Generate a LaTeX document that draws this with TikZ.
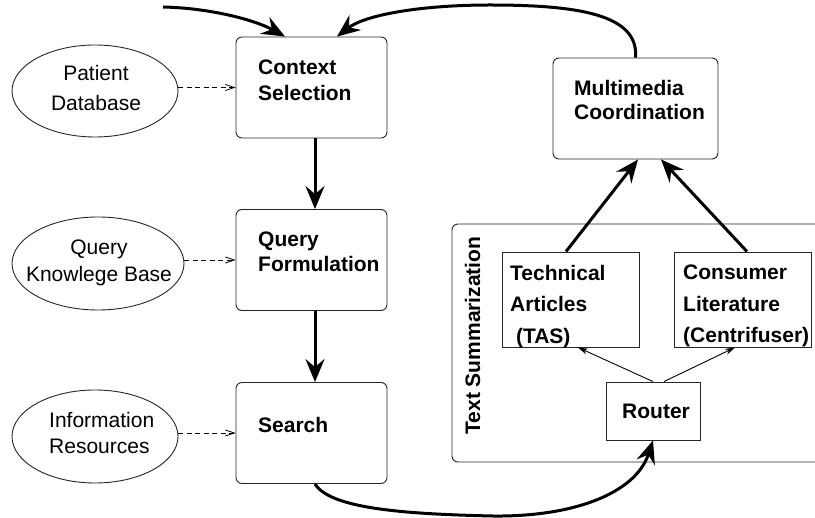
\documentclass[tikz,border=0pt]{standalone}
\usepackage{fontspec}
\setmainfont{Liberation Sans}
\usetikzlibrary{arrows.meta,calc,shapes.geometric}

\tikzset{
  boxline/.style={draw=black!85, line width=0.9pt},
  stage/.style={boxline, rounded corners=6pt, inner sep=0pt,
    minimum width=151pt, minimum height=101pt},
  plainbox/.style={boxline, inner sep=0pt},
  source/.style={boxline, ellipse, inner sep=0pt},
  bold/.style={font=\fontsize{21}{26}\selectfont\bfseries, align=left, inner sep=0pt},
  plain/.style={font=\fontsize{21}{26}\selectfont, inner sep=0pt},
  flow/.style={line width=3pt,
    -{Stealth[length=23pt,width=19pt,inset=8pt]}},
  feed/.style={line width=0.8pt, dash pattern=on 5pt off 3.5pt,
    -{Straight Barb[length=9pt,width=6pt]}},
  route/.style={line width=0.9pt, -{Stealth[length=10pt,width=6pt]}},
}

\begin{document}
\begin{tikzpicture}[x=1pt,y=-1pt]
\useasboundingbox (0,0) rectangle (815,518);

% pipeline stages
\node[stage] (ctx)  at (311.5,87.5) {};
\node[stage] (qf)   at (311.5,260) {};
\node[stage] (srch) at (311.5,433) {};
\node[stage, minimum width=165pt] (mm) at (635.5,108.5) {};

\node[bold, anchor=north west] (ctxt) at (258,60) {Context\\Selection};
\node[bold, anchor=north west, font=\fontsize{21}{25}\selectfont\bfseries] (qft) at (258,232) {Query\\Formulation};
\node[bold, anchor=north west] (srcht) at (258,417) {Search};
\node[bold, anchor=north west, font=\fontsize{21}{24}\selectfont\bfseries] (mmt) at (574,80) {Multimedia\\Coordination};

% knowledge sources
\node[source, minimum width=166pt, minimum height=92pt] (pd)  at (95,91) {};
\node[source, minimum width=172pt, minimum height=93pt] (qkb) at (98,263.5) {};
\node[source, minimum width=166pt, minimum height=93pt] (ir)  at (95,436.5) {};

\node[plain, anchor=north, align=center, font=\fontsize{21}{30}\selectfont] (pdt) at (96,65) {Patient\\Database};
\node[plain, anchor=north, align=center, font=\fontsize{21}{27}\selectfont] (qkbt) at (99,240) {Query\\Knowlege Base};
\node[plain, anchor=north west, align=left] (irt) at (49,412) {Information\\Resources};

% text summarization module
\draw[boxline, rounded corners=6pt] (815,224) -- (452,224) -- (452,462) -- (815,462);
\node[bold, rotate=90] (tslabel) at (472.5,335.5) {Text Summarization};

\node[plainbox, minimum width=137pt, minimum height=95pt] (tas) at (570.5,299.5) {};
\node[plainbox, minimum width=137pt, minimum height=95pt] (cen) at (742.5,299.5) {};
\node[plainbox, minimum width=94pt, minimum height=58pt] (rt) at (653,411) {};

\node[bold, anchor=north west, font=\fontsize{21}{31.5}\selectfont\bfseries] (tast) at (510,265) {Technical\\Articles\\\ (TAS)};
\node[bold, anchor=north west, font=\fontsize{21}{31.5}\selectfont\bfseries] (cent) at (683,265) {Consumer\\Literature\\(Centrifuser)};
\node[bold, anchor=north west] (rtt) at (622,404) {Router};

% main flow
\coordinate (start) at (163,7);
\draw[flow] (start) .. controls (210,8) and (255,20) .. ($(ctx.north)+(-26.5,0)$);
\draw[flow] (mm.north) .. controls (639,15) and (580,5) .. (490,5)
                      .. controls (420,5) and (365,15) .. ($(ctx.north)+(25.5,0)$);
\draw[flow] ($(ctx.south)+(3.5,0)$) -- ($(qf.north)+(3.5,0)$);
\draw[flow] ($(qf.south)+(3.5,0)$) -- ($(srch.north)+(3.5,0)$);
\draw[flow] ($(srch.south)+(3.5,0)$) .. controls (330,508) and (400,514) .. (493,516)
                      .. controls (570,517) and (635,495) .. (rt.south);
\draw[flow] ($(tas.north)+(-4.5,0)$) -- ($(mm.south)+(2.5,0)$);
\draw[flow] ($(cen.north)+(4.5,0)$) -- ($(mm.south)+(25.5,0)$);

% routing inside the summarizer
\draw[route] (rt.north) -- ($(tas.south)+(7.5,0)$);
\draw[route] ($(rt.north)+(11,0)$) -- ($(cen.south)+(-7.5,0)$);

% knowledge feeds
\draw[feed] (ctx.west -| pd.east) -- (ctx.west);
\draw[feed] (qf.west -| qkb.east) -- (qf.west);
\draw[feed] (srch.west -| ir.east) -- (srch.west);
\end{tikzpicture}
\end{document}
